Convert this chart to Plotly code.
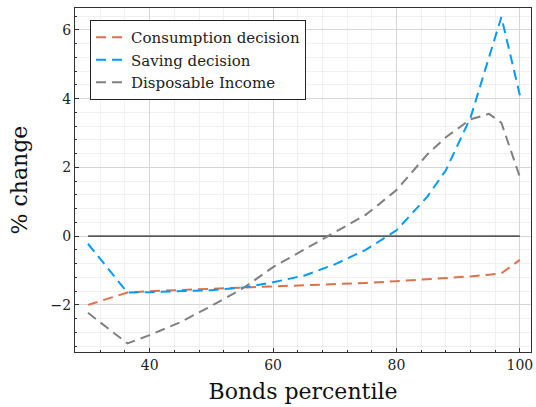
import plotly.graph_objects as go

# Data
percentile = [30, 36.4, 40, 45, 50, 55, 60, 65, 70, 75, 80, 85, 88, 92, 95, 97, 100]
consumption = [-2.00, -1.64, -1.60, -1.56, -1.53, -1.49, -1.46, -1.43, -1.40, -1.36, -1.31, -1.26, -1.22, -1.17, -1.12, -1.08, -0.69]
saving = [-0.22, -1.64, -1.63, -1.61, -1.57, -1.50, -1.34, -1.15, -0.82, -0.40, 0.17, 1.15, 1.92, 3.45, 5.17, 6.38, 4.10]
income = [-2.23, -3.12, -2.88, -2.50, -2.03, -1.53, -0.90, -0.40, 0.10, 0.62, 1.34, 2.38, 2.88, 3.40, 3.56, 3.30, 1.72]
zero_x = [min(percentile), max(percentile)]
zero_y = [0, 0]

x_ticks = [40, 60, 80, 100]
y_ticks = [-2, 0, 2, 4, 6]

FONT = "DejaVu Serif"
dash = "10px,6px"

fig = go.Figure()
fig.add_trace(go.Scatter(x=zero_x, y=zero_y, mode="lines", showlegend=False,
                         line=dict(color="#5a5a5a", width=1.8), hoverinfo="skip"))
fig.add_trace(go.Scatter(x=percentile, y=consumption, mode="lines", name="Consumption decision",
                         line=dict(color="#E26F46", width=2, dash=dash)))
fig.add_trace(go.Scatter(x=percentile, y=saving, mode="lines", name="Saving decision",
                         line=dict(color="#009AFA", width=2, dash=dash)))
fig.add_trace(go.Scatter(x=percentile, y=income, mode="lines", name="Disposable Income",
                         line=dict(color="#808080", width=2, dash=dash)))

axis_common = dict(
    showline=True, linecolor="#303030", linewidth=1.2, mirror=True,
    ticks="inside", ticklen=4, tickcolor="#303030",
    showgrid=True, gridcolor="#d6d6d6", gridwidth=1,
    zeroline=False,
    tickfont=dict(family=FONT, size=14, color="#222"),
)

fig.update_xaxes(
    range=[27.9, 101.8], tickvals=x_ticks,
    title=dict(text="Bonds percentile", font=dict(family=FONT, size=22, color="#111"), standoff=11),
    minor=dict(dtick=4, tick0=0, showgrid=True, gridcolor="#f0f0f0", ticks="inside", ticklen=2, tickcolor="#303030"),
    **axis_common,
)
fig.update_yaxes(
    range=[-3.37, 6.64], tickvals=y_ticks,
    title=dict(text="% change", font=dict(family=FONT, size=22, color="#111"), standoff=16),
    minor=dict(dtick=0.4, tick0=0, showgrid=True, gridcolor="#f0f0f0", ticks="inside", ticklen=2, tickcolor="#303030"),
    **axis_common,
)

fig.update_layout(
    width=536, height=407,
    margin=dict(l=75, r=3, t=8, b=55),
    plot_bgcolor="white", paper_bgcolor="white",
    font=dict(family=FONT, color="#222"),
    legend=dict(x=0.033, y=0.965, xanchor="left", yanchor="top",
                bgcolor="white", bordercolor="#222", borderwidth=1,
                font=dict(family=FONT, size=15, color="#222"),
                tracegroupgap=0, itemsizing="trace"),
)

fig.write_html("out.html")
